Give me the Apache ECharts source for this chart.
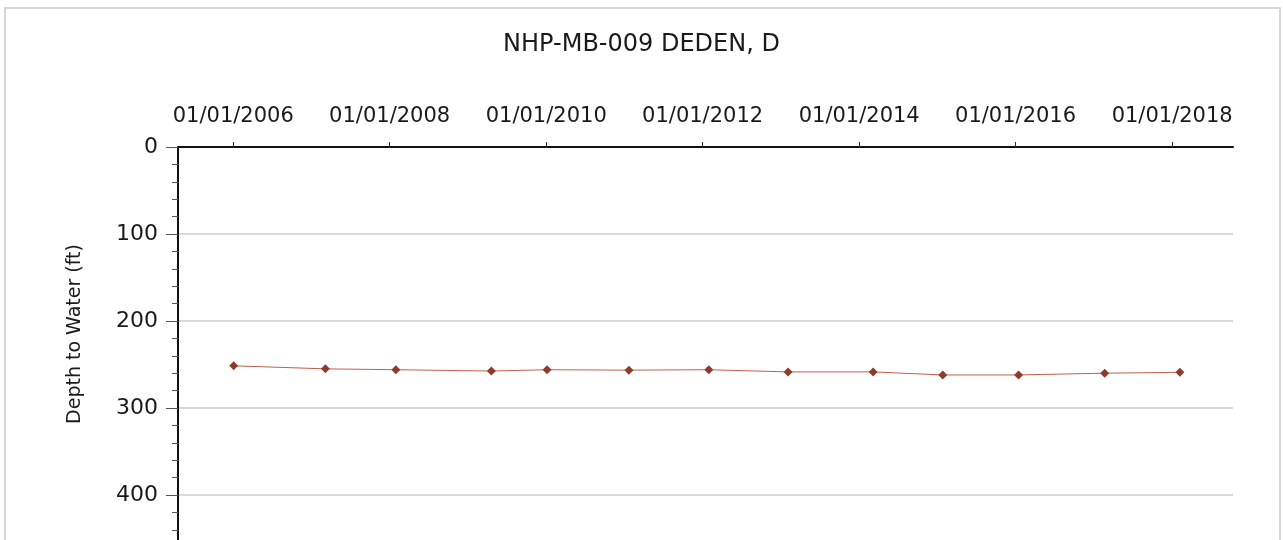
<!DOCTYPE html>
<html>
<head>
<meta charset="utf-8">
<script src="https://cdn.jsdelivr.net/npm/echarts@6/dist/echarts.min.js"></script>
<style>
  html, body { margin: 0; padding: 0; background: #fff; }
  #chart { width: 1283px; height: 540px; }
</style>
</head>
<body>
<div id="chart"></div>
<script>
  // sample dates and depth to water (ft)
  const sampleDates = ['2006-01-03', '2007-03-07', '2008-01-30', '2009-04-20', '2010-01-05', '2011-01-22',
    '2012-01-30', '2013-02-03', '2014-03-07', '2015-01-26', '2016-01-15', '2017-02-20', '2018-02-06'];
  const depthValues = [251.5, 255, 256, 257.5, 256, 256.5, 256, 258.5, 258.5, 262, 262, 260, 259];
  const tickDates = ['2006-01-01', '2008-01-01', '2010-01-01', '2012-01-01', '2014-01-01', '2016-01-01', '2018-01-01'];
  const axisStart = '2005-04-18';
  const axisEnd = '2018-10-12';

  const fontFamily = '"DejaVu Sans", "Liberation Sans", sans-serif';
  const toTime = s => new Date(s + 'T00:00:00').getTime();
  const pad = n => (n < 10 ? '0' : '') + n;

  const chart = echarts.init(document.getElementById('chart'));
  const option = {
    backgroundColor: '#fff',
    animation: false,
    title: {
      text: 'NHP-MB-009 DEDEN, D',
      left: 'center',
      top: 28,
      textStyle: { fontFamily: fontFamily, fontSize: 24, fontWeight: 'normal', color: '#1a1a1a' }
    },
    graphic: [
      {
        type: 'rect',
        shape: { x: 5, y: 8, width: 1275, height: 560 },
        style: { fill: 'none', stroke: '#d6d6d6', lineWidth: 2 },
        silent: true
      },
      {
        type: 'text',
        x: 75,
        y: 334,
        rotation: Math.PI / 2,
        style: {
          text: 'Depth to Water (ft)',
          fontFamily: fontFamily,
          fontSize: 19,
          fill: '#1a1a1a',
          align: 'center',
          verticalAlign: 'middle'
        }
      }
    ],
    grid: {
      left: 178,
      right: 50,
      top: 147,
      height: 435,
      outerBoundsMode: 'none'
    },
    xAxis: {
      type: 'value',
      position: 'top',
      min: toTime(axisStart),
      max: toTime(axisEnd),
      axisLine: { show: true, lineStyle: { color: '#111', width: 2 } },
      axisTick: {
        show: true,
        length: 5,
        lineStyle: { color: '#333', width: 1 },
        customValues: tickDates.map(toTime)
      },
      axisLabel: {
        margin: 20,
        fontFamily: fontFamily,
        fontSize: 21,
        color: '#1a1a1a',
        customValues: tickDates.map(toTime),
        formatter: function (v) {
          const d = new Date(v);
          return pad(d.getMonth() + 1) + '/' + pad(d.getDate()) + '/' + d.getFullYear();
        }
      },
      splitLine: { show: false }
    },
    yAxis: {
      type: 'value',
      inverse: true,
      min: 0,
      max: 500,
      interval: 100,
      axisLine: { show: true, lineStyle: { color: '#111', width: 2 } },
      axisTick: { show: true, length: 12, lineStyle: { color: '#555', width: 1 } },
      minorTick: { show: true, splitNumber: 5, length: 6, lineStyle: { color: '#555', width: 1 } },
      axisLabel: {
        margin: 20,
        fontFamily: fontFamily,
        fontSize: 22,
        color: '#1a1a1a'
      },
      splitLine: { show: true, lineStyle: { color: '#d9d9d9', width: 2 } }
    },
    series: [
      {
        type: 'line',
        data: sampleDates.map((d, i) => [toTime(d), depthValues[i]]),
        symbol: 'diamond',
        symbolSize: 9,
        itemStyle: { color: '#8e3b2c' },
        lineStyle: { color: '#c0604a', width: 1 }
      }
    ]
  };
  chart.setOption(option);
  window.addEventListener('resize', function () {
    chart.resize();
  });
</script>
</body>
</html>
